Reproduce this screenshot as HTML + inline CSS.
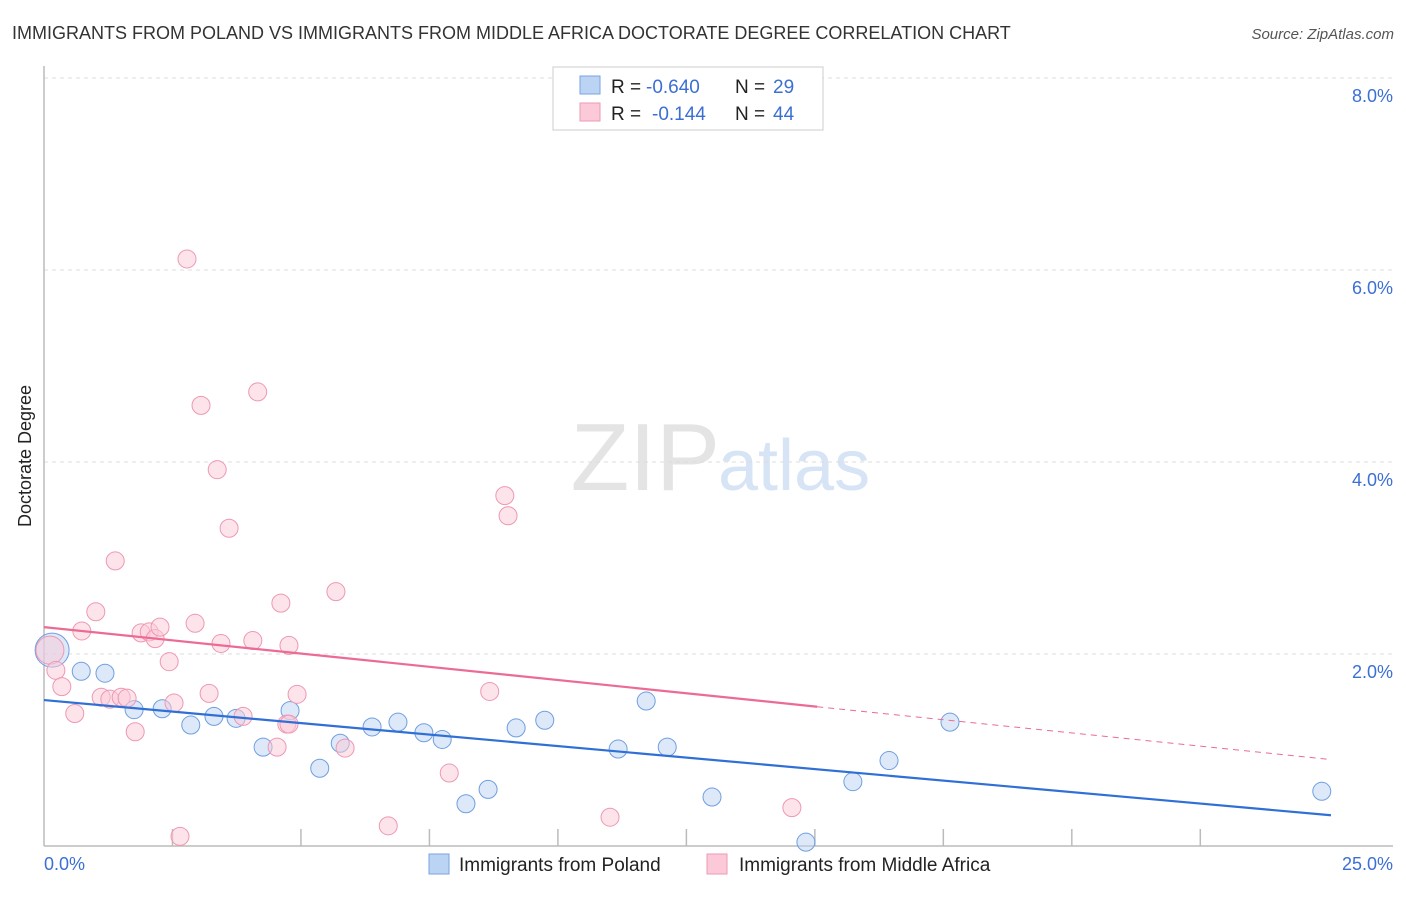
<!DOCTYPE html>
<html><head><meta charset="utf-8"><style>
body{margin:0;background:#fff;font-family:"Liberation Sans",sans-serif;}
svg text{font-family:"Liberation Sans",sans-serif;}
</style></head><body>
<svg width="1406" height="892" xmlns="http://www.w3.org/2000/svg" id="chart">
<text x="12" y="39" font-size="18" fill="#333">IMMIGRANTS FROM POLAND VS IMMIGRANTS FROM MIDDLE AFRICA DOCTORATE DEGREE CORRELATION CHART</text>
<text x="1394" y="39" font-size="15" fill="#555" font-style="italic" text-anchor="end">Source: ZipAtlas.com</text>
<text x="720" y="490" font-size="96" fill="#e4e4e4" text-anchor="end" font-family="Liberation Serif">ZIP</text>
<text x="718" y="490" font-size="72" fill="#d6e4f5">atlas</text>
<g id="grid"></g>
<g id="axes"></g>
<g id="pts"></g>
<g id="lines"></g>
<text x="31" y="456" font-size="18" fill="#222" text-anchor="middle" transform="rotate(-90 31 456)">Doctorate Degree</text>
<text x="44" y="870" font-size="18" fill="#3b6fd4">0.0%</text>
<text x="1393" y="870" font-size="18" fill="#3b6fd4" text-anchor="end">25.0%</text>
<g>
<rect x="553" y="67" width="270" height="63" fill="#fff" stroke="#ccc"/>
<rect x="580" y="76" width="20" height="18" fill="#bcd4f4" stroke="#7aa3e0"/>
<rect x="580" y="103" width="20" height="18" fill="#fbc9d8" stroke="#ef9ab5"/>
<text y="93" font-size="19" fill="#222"><tspan x="611">R =</tspan><tspan x="646" fill="#3b6fd4">-0.640</tspan><tspan x="735">N =</tspan><tspan x="773" fill="#3b6fd4">29</tspan></text>
<text y="120" font-size="19" fill="#222"><tspan x="611">R =</tspan><tspan x="652" fill="#3b6fd4">-0.144</tspan><tspan x="735">N =</tspan><tspan x="773" fill="#3b6fd4">44</tspan></text>
</g>
<g>
<rect x="429" y="854" width="20" height="20" fill="#bcd4f4" stroke="#7aa3e0"/>
<text x="459" y="871" font-size="19" fill="#222">Immigrants from Poland</text>
<rect x="707" y="854" width="20" height="20" fill="#fbc9d8" stroke="#ef9ab5"/>
<text x="739" y="871" font-size="19" fill="#222">Immigrants from Middle Africa</text>
</g>
</svg>
<script>
const yTicks=[2,4,6,8];
const yTickLabels=["2.0%","4.0%","6.0%","8.0%"];
const polandX=[0.15,0.69,1.13,1.67,2.19,2.72,3.15,3.56,4.06,4.56,5.11,5.49,6.08,6.56,7.04,7.38,7.82,8.23,8.75,9.28,10.64,11.16,11.55,12.38,14.12,14.99,15.66,16.79,23.68];
const polandY=[2.04,1.82,1.80,1.42,1.43,1.26,1.35,1.33,1.03,1.41,0.81,1.07,1.24,1.29,1.18,1.11,0.44,0.59,1.23,1.31,1.01,1.51,1.03,0.51,0.04,0.67,0.89,1.29,0.57];
const africaX=[0.11,0.22,0.33,0.57,0.70,0.96,1.06,1.22,1.32,1.43,1.54,1.69,1.80,1.95,2.06,2.15,2.32,2.41,2.52,2.65,2.80,2.91,3.06,3.21,3.28,3.43,3.69,3.87,3.96,4.32,4.39,4.50,4.54,4.54,4.69,5.41,6.38,7.51,8.26,8.54,8.60,10.49,13.86,5.58];
const africaY=[2.04,1.83,1.66,1.38,2.24,2.44,1.55,1.53,2.97,1.55,1.54,1.19,2.22,2.23,2.16,2.28,1.92,1.49,0.10,6.115,2.32,4.59,1.59,3.92,2.11,3.31,1.35,2.14,4.73,1.03,2.53,1.27,2.09,1.27,1.58,2.65,0.21,0.76,1.61,3.65,3.44,0.30,0.40,1.02];
const polandTrend=[1.52,0.32];
const africaTrend=[2.28,0.90];
const X0=44,X1=1393,Y0=846,YPX=96;
const xs=v=>X0+v/25*(X1-X0), ys=v=>Y0-v*YPX;
const NS="http://www.w3.org/2000/svg";
function mk(t,a,p){const e=document.createElementNS(NS,t);for(const k in a)e.setAttribute(k,a[k]);p.appendChild(e);return e;}
const grid=document.getElementById('grid'),axes=document.getElementById('axes'),pts=document.getElementById('pts'),lines=document.getElementById('lines');
yTicks.forEach((t,i)=>{
const g=mk('line',{x1:X0,x2:X1,y1:ys(t),y2:ys(t),stroke:'#ddd','stroke-dasharray':'4,4'},grid);


const l=mk('text',{x:1393,y:ys(t)+24,'font-size':18,fill:'#3b6fd4','text-anchor':'end'},grid);
l.textContent=yTickLabels[i];


});
const ax=mk('line',{x1:X0,x2:X0,y1:66,y2:Y0,stroke:'#bbb','stroke-width':1.5},axes);


const bx=mk('line',{x1:X0,x2:X1,y1:Y0,y2:Y0,stroke:'#bbb','stroke-width':1.5},axes);


for(let k=1;k<=9;k++){const tx=X0+k*(X1-X0)/10.5;
const t=mk('line',{x1:tx,x2:tx,y1:Y0-17,y2:Y0,stroke:'#bbb','stroke-width':1.5},axes);

}
function dots(X,Y,fill,stroke,name){X.forEach((x,i)=>{const r=i===0&&name==='poland-point'?17:(i===0?14:9);
const c=mk('circle',{cx:xs(x),cy:ys(Y[i]),r:r,fill:fill,stroke:stroke,'stroke-width':1,'fill-opacity':0.5},pts);

});}
dots(polandX,polandY,'#bcd4f4','#6f9ee0','poland-point');
dots(africaX,africaY,'#fbc9d8','#ee98b3','africa-point');
const xe=23.85,xm=14.33;
const bl=mk('line',{x1:xs(0),y1:ys(polandTrend[0]),x2:xs(xe),y2:ys(polandTrend[1]),stroke:'#2f6fd6','stroke-width':2.2},lines);


const pm=africaTrend[0]+(africaTrend[1]-africaTrend[0])*xm/xe;
const pl=mk('line',{x1:xs(0),y1:ys(africaTrend[0]),x2:xs(xm),y2:ys(pm),stroke:'#ec6b94','stroke-width':2.2},lines);


const pd=mk('line',{x1:xs(xm),y1:ys(pm),x2:xs(xe),y2:ys(africaTrend[1]),stroke:'#ec6b94','stroke-width':1,'stroke-dasharray':'6,5'},lines);


</script>
</body></html>
